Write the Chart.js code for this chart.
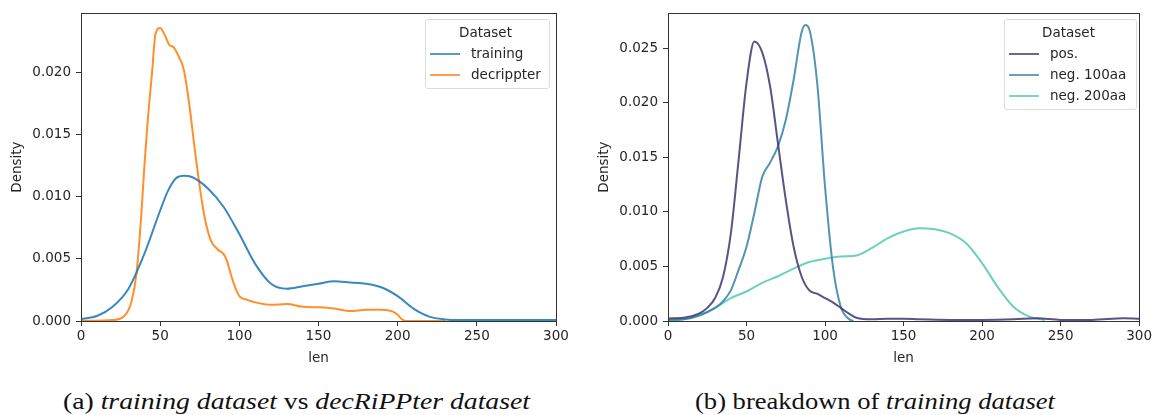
<!DOCTYPE html>
<html>
<head>
<meta charset="utf-8">
<script src="https://cdn.jsdelivr.net/npm/chart.js@4.4.1/dist/chart.umd.min.js"></script>
<style>
  body { margin: 0; background: #fff; width: 1154px; height: 415px; overflow: hidden; position: relative; }
  .wrap { position: absolute; top: 0; height: 370px; }
  .legend {
    position: absolute; background: rgba(255,255,255,0.85); border: 1px solid #dcdcdc; border-radius: 3px;
    font-family: 'DejaVu Sans', sans-serif; font-size: 13.5px; color: #262626; padding: 2px 8px 3px 4px; box-sizing: border-box;
  }
  .legend .ttl { text-align: center; line-height: 21px; }
  .legend .row { display: flex; align-items: center; line-height: 21px; }
  .legend .sw { width: 30px; height: 0; border-top: 2.5px solid; margin-right: 11px; }
  .cap { position: absolute; top: 388px; font-family: 'Liberation Serif', serif; font-size: 24px; color: #111; white-space: nowrap; transform-origin: 0 0; }
  .cap i { font-style: italic; }
</style>
</head>
<body>
<div class="wrap" style="left:0;width:575px"><canvas id="chartA"></canvas></div>
<div class="wrap" style="left:587px;width:567px"><canvas id="chartB"></canvas></div>

<div class="legend" style="left:425px;top:19px;width:125px">
  <div class="ttl">Dataset</div>
  <div class="row"><span class="sw" style="border-color:rgba(31,119,180,0.75)"></span>training</div>
  <div class="row"><span class="sw" style="border-color:rgba(255,127,14,0.75)"></span>decrippter</div>
</div>
<div class="legend" style="left:1004px;top:19px;width:133px">
  <div class="ttl">Dataset</div>
  <div class="row"><span class="sw" style="border-color:rgba(62,52,112,0.75)"></span>pos.</div>
  <div class="row"><span class="sw" style="border-color:rgba(53,129,166,0.75)"></span>neg. 100aa</div>
  <div class="row"><span class="sw" style="border-color:rgba(82,201,176,0.75)"></span>neg. 200aa</div>
</div>

<div class="cap" id="capA" data-w="467" style="left:63px">(a) <i>training dataset</i> vs <i>decRiPPter dataset</i></div>
<div class="cap" id="capB" data-w="360" style="left:695px">(b) breakdown of <i>training dataset</i></div>

<script>
// x ticks shared by both panels
const lenTicks = [0, 50, 100, 150, 200, 250, 300];

// (a) training vs decRiPPter
const trainingLen = [0, 10, 20, 30, 40, 50, 55, 60, 65, 70, 80, 90, 100, 110, 120, 130, 140, 150, 160, 170, 180, 190, 200, 210, 220, 230, 240, 260, 280, 300];
const trainingDensity = [0.00016, 0.0004, 0.00115, 0.0026, 0.0054, 0.0089, 0.0105, 0.0115, 0.0117, 0.0116, 0.0107, 0.0092, 0.0070, 0.0046, 0.0030, 0.0026, 0.0028, 0.0030, 0.0032, 0.0031, 0.0030, 0.0027, 0.0020, 0.0010, 0.00035, 0.00013, 0.00008, 0.00008, 0.00008, 0.00008];

const decrippterLen = [0, 20, 25, 28, 30, 32, 35, 38, 40, 42, 45, 47, 50, 53, 56, 58, 61, 65, 68, 72, 75, 78, 82, 86, 90, 92, 95, 98, 100, 105, 110, 120, 130, 140, 150, 160, 170, 180, 190, 197, 200, 203, 206, 230];
const decrippterDensity = [0, 0.00008, 0.0002, 0.0005, 0.0009, 0.0016, 0.0038, 0.0084, 0.0124, 0.0159, 0.0202, 0.0231, 0.0236, 0.0230, 0.0222, 0.0221, 0.0215, 0.0202, 0.0178, 0.0137, 0.0108, 0.0084, 0.0065, 0.0058, 0.0054, 0.0049, 0.0036, 0.0025, 0.0020, 0.0017, 0.0015, 0.0013, 0.00137, 0.00115, 0.0011, 0.0010, 0.0008, 0.0009, 0.0009, 0.00075, 0.0005, 0.0001, 0, 0];

// (b) breakdown of training dataset
const posLen = [0, 10, 20, 25, 30, 35, 40, 45, 50, 55, 60, 65, 70, 75, 80, 85, 90, 95, 100, 105, 110, 115, 120, 130, 140, 150, 160, 180, 200, 220, 235, 250, 270, 290, 300];
const posDensity = [0.00024, 0.0003, 0.0007, 0.0012, 0.0021, 0.0040, 0.0080, 0.0148, 0.0218, 0.0256, 0.0246, 0.0215, 0.0163, 0.0111, 0.0068, 0.0041, 0.0028, 0.0025, 0.0021, 0.0017, 0.0012, 0.0007, 0.0003, 0.00015, 0.0002, 0.0002, 0.00015, 0.0001, 0.0001, 0.00015, 0.00025, 0.0001, 0.0001, 0.00025, 0.0002];

const neg100Len = [0, 10, 20, 30, 35, 40, 45, 50, 55, 60, 65, 70, 75, 80, 85, 87.5, 90, 95, 100, 105, 110, 115, 118];
const neg100Density = [0.0001, 0.00015, 0.0005, 0.0012, 0.0018, 0.0028, 0.0047, 0.0068, 0.0099, 0.0132, 0.0145, 0.0160, 0.0184, 0.0221, 0.0264, 0.0271, 0.0267, 0.0218, 0.0123, 0.0050, 0.0013, 0.0002, 0];

const neg200Len = [0, 10, 20, 30, 40, 50, 60, 70, 80, 90, 100, 110, 120, 130, 140, 150, 160, 170, 180, 190, 200, 210, 220, 230, 240];
const neg200Density = [0.00003, 0.00015, 0.00055, 0.0012, 0.0021, 0.0027, 0.0035, 0.0041, 0.0048, 0.0054, 0.0057, 0.0059, 0.0060, 0.0067, 0.0076, 0.0082, 0.0085, 0.0084, 0.0080, 0.0071, 0.0053, 0.0031, 0.0013, 0.0004, 0.0001];

const tickFont = { family: "'DejaVu Sans', sans-serif", size: 13.5 };
const ink = '#262626';

// stretch the captions to the width of the LaTeX ones
document.querySelectorAll('.cap').forEach(function (el) {
    const k = Number(el.dataset.w) / el.getBoundingClientRect().width;
    el.style.transform = 'scaleX(' + k + ')';
});

function pts(xs, ys) {
    return xs.map(function (x, i) { return { x: x, y: ys[i] }; });
}

function series(label, xs, ys, color) {
    return {
        label: label,
        data: pts(xs, ys),
        borderColor: color,
        borderWidth: 2,
        pointRadius: 0,
        fill: false,
        cubicInterpolationMode: 'monotone'
    };
}

// matplotlib-style box around the plot area
const framePlugin = {
    id: 'frame',
    afterDraw: function (chart) {
        const a = chart.chartArea, ctx = chart.ctx;
        ctx.save();
        ctx.strokeStyle = '#333';
        ctx.lineWidth = 1;
        ctx.strokeRect(Math.round(a.left) + 0.5, Math.round(a.top) + 0.5, Math.round(a.right - a.left), Math.round(a.bottom - a.top));
        ctx.restore();
    }
};

function makeChart(id, datasets, yMax, rightPad) {
    return new Chart(document.getElementById(id), {
        type: 'line',
        data: { datasets: datasets },
        plugins: [framePlugin],
        options: {
            responsive: true,
            maintainAspectRatio: false,
            animation: false,
            layout: { padding: { top: 13, right: rightPad, left: 0, bottom: 0 } },
            plugins: { legend: { display: false }, tooltip: { enabled: false } },
            scales: {
                x: {
                    type: 'linear', min: 0, max: 300,
                    afterBuildTicks: function (s) { s.ticks = lenTicks.map(function (v) { return { value: v }; }); },
                    afterFit: function (s) { s.height = 49; },
                    grid: { drawOnChartArea: false, drawTicks: true, tickLength: 5, color: '#333' },
                    border: { display: true, color: '#333' },
                    ticks: { font: tickFont, color: ink, padding: 2, maxRotation: 0 },
                    title: { display: true, text: 'len', font: tickFont, color: ink, padding: { top: 0, bottom: 3 } }
                },
                y: {
                    type: 'linear', min: 0, max: yMax,
                    afterFit: function (s) { s.width = 81; },
                    grid: { drawOnChartArea: false, drawTicks: true, tickLength: 5, color: '#333' },
                    border: { display: true, color: '#333' },
                    ticks: {
                        stepSize: 0.005, includeBounds: false, font: tickFont, color: ink, padding: 5,
                        callback: function (v) { return v.toFixed(3); }
                    },
                    title: { display: true, text: 'Density', font: tickFont, color: ink, padding: { top: 9, bottom: 0 } }
                }
            }
        }
    });
}

makeChart('chartA', [
    series('training', trainingLen, trainingDensity, 'rgba(31,119,180,0.88)'),
    series('decrippter', decrippterLen, decrippterDensity, 'rgba(255,127,14,0.88)')
], 0.0248, 19);

makeChart('chartB', [
    series('pos.', posLen, posDensity, 'rgba(62,52,112,0.85)'),
    series('neg. 100aa', neg100Len, neg100Density, 'rgba(53,129,166,0.85)'),
    series('neg. 200aa', neg200Len, neg200Density, 'rgba(82,201,176,0.85)')
], 0.0282, 14);
</script>
</body>
</html>
